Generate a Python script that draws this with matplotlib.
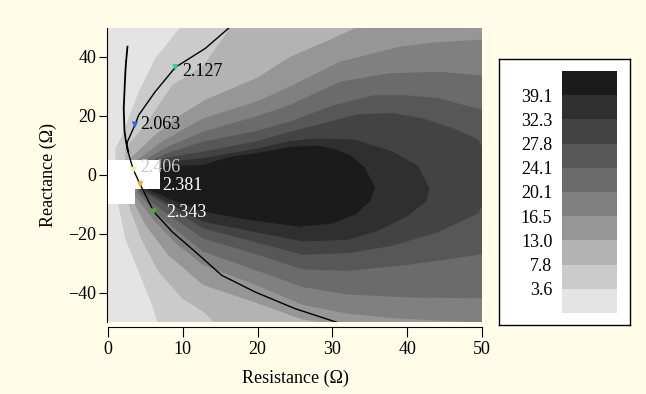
import matplotlib.pyplot as plt
from matplotlib.colors import ListedColormap, BoundaryNorm
from matplotlib.cm import ScalarMappable
from matplotlib.patches import Rectangle

plt.rcParams['font.family'] = ['Liberation Serif', 'DejaVu Serif']
plt.rcParams['font.size'] = 13

# contour levels (colorbar) and their gray fills, light -> dark
level_bounds = [0.0, 3.6, 7.8, 13.0, 16.5, 20.1, 24.1, 27.8, 32.3, 39.1, 45.0]
gray_colors = ['#e4e4e4', '#cbcbcb', '#b3b3b3', '#969696', '#808080',
               '#6b6b6b', '#575757', '#434343', '#2f2f2f', '#1b1b1b']

# outlines (Resistance, Reactance) of the region above each level
outline_3_6 = [(1.0, 9.0), (1.9, 13.6), (4.1, 28.2), (6.3, 39.5), (9.9, 50.8), (12.0, 56), (56, 56),
               (56, -56), (8.0, -56), (6.8, -51.5), (5.9, -44.2), (4.1, -32.9), (2.3, -21.6),
               (1.4, -10.3), (1.0, -4.0)]
outline_7_8 = [(2.3, 9.0), (5.0, 17.0), (8.6, 30.5), (12.7, 37.0), (16.6, 50.8), (18, 56), (56, 56),
               (56, -56), (17, -56), (15, -52), (12.7, -46.3), (10, -42), (6.8, -33), (4.5, -22),
               (3.0, -12), (2.2, -5)]
outline_13_0 = [(3.0, 5.7), (6.3, 13.6), (9.5, 20), (13.0, 25.5), (20.0, 33), (24.3, 40), (28, 44),
                (34, 50.8), (36, 56), (56, 56), (56, -56), (42, -56), (38, -51.5), (32, -51.2),
                (26, -49), (20, -43.5), (12.7, -37.3), (8.0, -27), (5.0, -17), (3.2, -8)]
outline_16_5 = [(3.4, 4.0), (7.0, 11.0), (12.7, 19.2), (20, 25), (24.3, 30), (31, 38.4), (39, 43.5),
                (44, 45), (49.2, 45.8), (56, 47), (56, -51), (50, -50), (45, -49.5), (38, -48.5),
                (32, -47), (26, -44), (20, -37.5), (12.7, -30.5), (9, -23), (6, -15), (3.6, -7)]
outline_20_1 = [(3.7, 3.0), (7.5, 9.0), (12.7, 14.7), (20, 20), (24.3, 23.7), (31, 31.6), (37.7, 34.5),
                (44.3, 35), (49.2, 33.9), (56, 32), (56, -42), (49.4, -41.8), (40, -41.5), (32, -40.5),
                (26, -38), (20, -32.5), (12.7, -26), (9.5, -19.5), (6.5, -13), (3.9, -6)]
outline_24_1 = [(4.0, 2.5), (8, 7.5), (12.7, 11.3), (20, 15), (24.3, 18.1), (30, 23.5), (35.4, 27),
                (40, 27), (44.3, 26), (49.2, 22.6), (56, 19), (56, -25), (49.4, -27.1), (40, -30.5),
                (32, -32.5), (26, -32), (20, -27), (12.7, -21.5), (7, -11.5), (4.1, -5.5)]
outline_27_8 = [(4.2, 2.0), (8, 6), (12.7, 7.9), (20, 11.5), (24.3, 14.7), (28, 17), (33.2, 20.5),
                (38, 21), (42.1, 19.2), (46, 16), (49.5, 12), (52, 0), (49.5, -13), (44, -19.5),
                (38, -24), (32, -26.5), (26, -27), (20, -23), (12.7, -18.1), (8, -10.5), (4.3, -5)]
outline_32_3 = [(4.4, 1.5), (8, 4.5), (12.7, 5.7), (20, 9), (24.3, 11.5), (28, 12.4), (33, 12),
                (38, 8), (41.5, 3), (43, -4.6), (42.5, -9), (40, -14), (36, -19), (32, -22),
                (26, -22.5), (20, -19.5), (12.7, -15.8), (8, -9.5), (4.5, -4.5)]
outline_39_1 = [(4.6, 1.0), (8, 3), (12.7, 3.4), (16, 6), (20, 7.5), (24.3, 9.5), (28, 10), (30, 9),
                (32.3, 6.8), (34.3, 2.6), (35.7, -4.1), (35, -9), (33, -13.5), (29.9, -16.5),
                (25.5, -17.5), (18.8, -15.2), (12.7, -12.4), (8, -8), (4.7, -4)]

# the two black trajectories
curve_a_r = [2.6, 2.4, 2.3, 2.1, 2.2, 2.4, 2.7]
curve_a_x = [43.5, 38.0, 33.9, 22.6, 15.0, 11.3, 8.0]
curve_b_r = [17.2, 16.6, 13.0, 9.0, 6.3, 4.1, 3.6, 2.6, 2.5, 3.0, 3.4, 4.3, 6.1, 8.6, 11.7, 15.2, 19.7, 25.0, 30.9, 31.5]
curve_b_x = [52.0, 50.8, 42.9, 36.5, 28.2, 20.3, 17.0, 11.3, 9.5, 5.0, 1.7, -3.2, -12.4, -19.3, -26.1, -34.0, -39.7, -45.3, -50.2, -51.0]

# labelled points
marker_r = [9.0, 3.6, 3.4, 4.3, 6.1]
marker_x = [36.5, 17.0, 1.7, -3.2, -12.4]
marker_text = ['2.127', '2.063', '2.406', '2.381', '2.343']
marker_colors = ['#22d4a0', '#2b6fd6', '#f2ec9a', '#f5a623', '#4caf28']
label_colors = ['black', 'black', '#c8c8c8', 'white', 'white']
label_offsets = [(5, -3), (4, 0.5), (5, 1.5), (16, -1), (9, -1)]

outlines = [outline_3_6, outline_7_8, outline_13_0, outline_16_5, outline_20_1,
            outline_24_1, outline_27_8, outline_32_3, outline_39_1]

fig = plt.figure(figsize=(6.46, 3.94), dpi=100)
fig.patch.set_facecolor('#fffde7')

ax = fig.add_axes([0.1672, 0.1815, 0.5789, 0.7487])
ax.set_facecolor(gray_colors[0])
for i, outline in enumerate(outlines):
    r, x = zip(*outline)
    ax.fill(r, x, color=gray_colors[i + 1], lw=0, zorder=1 + i * 0.1)

ax.add_patch(Rectangle((0, -4.8), 7.0, 9.9, fc='white', ec='none', zorder=4))
ax.add_patch(Rectangle((0, -9.9), 3.6, 5.2, fc='white', ec='none', zorder=4))

ax.plot(curve_a_r, curve_a_x, color='black', lw=1.3, zorder=5)
ax.plot(curve_b_r, curve_b_x, color='black', lw=1.0, zorder=5)
ax.scatter(marker_r, marker_x, c=marker_colors, marker='v', s=22, linewidths=0, zorder=6)
for r, x, t, c, off in zip(marker_r, marker_x, marker_text, label_colors, label_offsets):
    ax.annotate(t, (r, x), xytext=off, textcoords='offset points', ha='left', va='center',
                color=c, fontsize=13, zorder=7)

ax.set_xlim(0, 50)
ax.set_ylim(-50, 50)
ax.set_xticks([0, 10, 20, 30, 40, 50])
ax.set_yticks([-40, -20, 0, 20, 40])
for s in ['top', 'right']:
    ax.spines[s].set_visible(False)
ax.spines['bottom'].set_position(('outward', 3))
ax.spines['left'].set_position(('outward', 1))
ax.tick_params(axis='y', direction='out', length=5.5, pad=2)
ax.tick_params(axis='x', direction='out', length=7, pad=3)
ax.set_xlabel('Resistance (Ω)', labelpad=9)
ax.set_ylabel('Reactance (Ω)', labelpad=8)

# legend box with the colour scale
box = fig.add_axes([0.772, 0.175, 0.203, 0.675])
box.set_facecolor('white')
box.set_xticks([])
box.set_yticks([])
for s in box.spines.values():
    s.set_linewidth(1)

cmap = ListedColormap(gray_colors)
norm = BoundaryNorm(level_bounds, cmap.N)
cax = fig.add_axes([0.870, 0.2056, 0.0851, 0.6142])
cb = fig.colorbar(ScalarMappable(norm=norm, cmap=cmap), cax=cax, ticks=level_bounds[1:-1])
cb.outline.set_visible(False)
cax.minorticks_off()
cax.yaxis.set_ticks_position('left')
cax.set_yticklabels([f'{v:.1f}' for v in level_bounds[1:-1]])
cax.tick_params(which='both', length=0, pad=7, labelsize=13)

fig.savefig('out.png', dpi=100, facecolor=fig.get_facecolor())
